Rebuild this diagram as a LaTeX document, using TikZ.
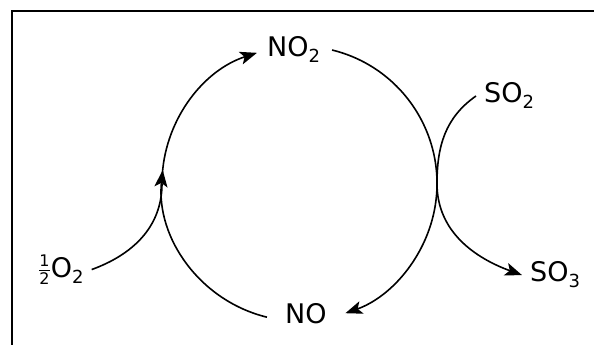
\documentclass[tikz,border=0pt]{standalone}
\usepackage{fontspec}
\setmainfont{DejaVu Sans}
\usetikzlibrary{arrows.meta,calc}
\newcommand{\chsub}[1]{\raisebox{-6pt}{\fontsize{18}{18}\selectfont #1}}
\newcommand{\halfof}{\raisebox{2pt}{$\frac{\mbox{\fontsize{16}{16}\selectfont 1}}{\mbox{\fontsize{16}{16}\selectfont 2}}$}}

\begin{document}
\begin{tikzpicture}[x=1pt,y=1pt,
  species/.style={font=\fontsize{27}{30}\selectfont, inner sep=8pt, anchor=base west},
  cycline/.style={line width=1.6pt},
  cycarrow/.style={cycline, -{Stealth[length=17pt,width=13pt,inset=4pt]}}]
  \useasboundingbox (0,0) rectangle (594,345);
  % frame, top and left side only
  \draw[line width=2pt] (594,333.5) -- (11.5,333.5) -- (11.5,0);

  % centre of the cycle
  \coordinate (c) at (299.5,161.4);
  \def\rad{137.5}
  \coordinate (left) at ($(c)+(180:\rad)$);
  \coordinate (right) at ($(c)+(0:\rad)$);

  % species
  \node[species] (no2) at (259,288) {NO\chsub{2}};
  \node[species] (no) at (277,21) {NO};
  \node[species] (so2) at (476,242) {SO\chsub{2}};
  \node[species] (so3) at (522,63) {SO\chsub{3}};
  \node[species] (half) at (30,67) {\halfof O\chsub{2}};

  % the NO / NO2 cycle
  \draw[cycarrow] (c) ++(256.3:\rad) arc[start angle=256.3, end angle=174.3, radius=\rad];
  \draw[cycarrow] (c) ++(176:\rad) arc[start angle=176, end angle=108, radius=\rad];
  \draw[cycarrow] (c) ++(76.3:\rad) arc[start angle=76.3, end angle=-70.5, radius=\rad];

  % oxygen in, SO2 in, SO3 out
  \draw[cycline] (half.east) to[out=20,in=-90] (left);
  \draw[cycline] (so2.west) to[out=215,in=90] (right);
  \draw[cycarrow] (right) to[out=-90,in=160] (so3.west);
\end{tikzpicture}
\end{document}
